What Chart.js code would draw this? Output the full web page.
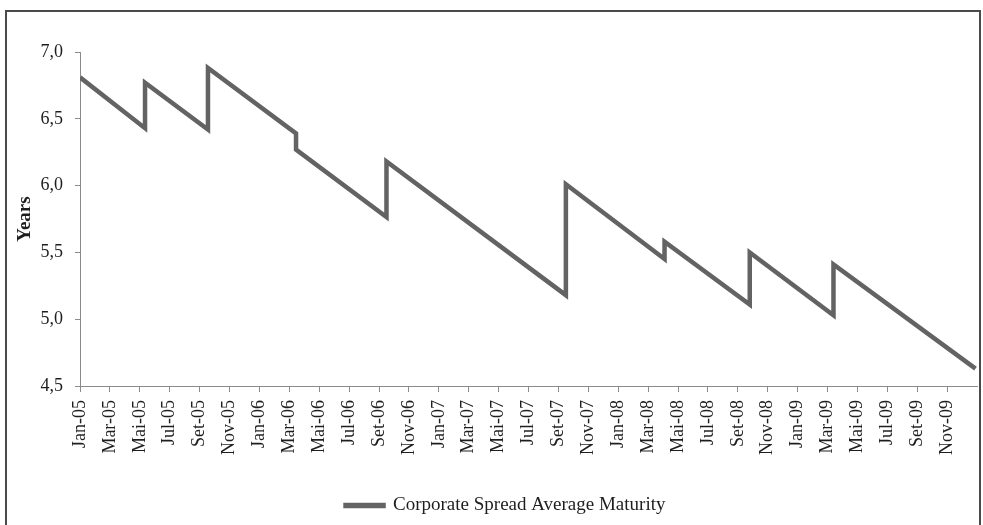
<!DOCTYPE html>
<html>
<head>
<meta charset="utf-8">
<script src="https://cdn.jsdelivr.net/npm/chart.js@4/dist/chart.umd.min.js"></script>
<style>
  html, body { margin: 0; padding: 0; background: #fff; overflow: hidden; }
  #wrap { position: relative; width: 983px; height: 525px; }
  #frame { position: absolute; left: 5px; top: 10px; width: 976px; height: 540px;
           border: 2px solid #4a4a4a; box-sizing: border-box; pointer-events: none; }
  canvas { position: absolute; left: 0; top: 0; }
</style>
</head>
<body>
<div id="wrap">
  <canvas id="c" width="983" height="525"></canvas>
  <div id="frame"></div>
</div>
<script>
// Months since Jan-2005 (0 = 1 Jan 2005) and average maturity in years
const maturityMonths = [0, 4.35, 4.35, 8.56, 8.56, 14.45, 14.45, 20.5, 20.5, 32.5, 32.5, 39.1, 39.1, 44.8, 44.8, 50.4, 50.4, 59.9];
const maturityYears  = [6.81, 6.43, 6.77, 6.42, 6.88, 6.39, 6.27, 5.765, 6.18, 5.18, 6.01, 5.45, 5.58, 5.11, 5.50, 5.03, 5.41, 4.63];
const xTickLabels = ['Jan-05','Mar-05','Mai-05','Jul-05','Set-05','Nov-05',
                     'Jan-06','Mar-06','Mai-06','Jul-06','Set-06','Nov-06',
                     'Jan-07','Mar-07','Mai-07','Jul-07','Set-07','Nov-07',
                     'Jan-08','Mar-08','Mai-08','Jul-08','Set-08','Nov-08',
                     'Jan-09','Mar-09','Mai-09','Jul-09','Set-09','Nov-09'];
const yTickLabels = ['4,5','5,0','5,5','6,0','6,5','7,0'];
const seriesName = 'Corporate Spread Average Maturity';

const points = maturityMonths.map((m, i) => ({ x: m, y: maturityYears[i] }));
const FONT = "'Liberation Serif', 'Times New Roman', serif";
const TXT = '#1e1e1e';

const shiftLegend = {
  id: 'shiftLegend',
  afterLayout(chart) {
    if (chart.legend) { chart.legend.left += 13; chart.legend.right += 13; }
  }
};

new Chart(document.getElementById('c'), {
  type: 'line',
  data: {
    datasets: [{
      label: seriesName,
      data: points,
      borderColor: '#636363',
      backgroundColor: '#636363',
      borderWidth: 4.5,
      pointRadius: 0,
      tension: 0,
      borderJoinStyle: 'miter'
    }]
  },
  plugins: [shiftLegend],
  options: {
    responsive: false,
    animation: false,
    devicePixelRatio: 1,
    layout: { padding: { left: 8, right: 6, top: 52, bottom: 0 } },
    plugins: {
      tooltip: { enabled: false },
      legend: {
        position: 'bottom',
        labels: {
          font: { family: FONT, size: 19 },
          color: TXT,
          boxWidth: 38,
          boxHeight: 1,
          padding: 6
        }
      }
    },
    scales: {
      x: {
        type: 'linear',
        min: 0,
        max: 60,
        afterFit: s => { s.height = 104; },
        grid: { drawOnChartArea: false, drawTicks: true, tickLength: 6, color: '#8a8a8a' },
        border: { color: '#8a8a8a', width: 1 },
        ticks: {
          stepSize: 2,
          autoSkip: false,
          maxRotation: 90,
          minRotation: 90,
          padding: 8,
          color: TXT,
          font: { family: FONT, size: 18 },
          callback: (v, i) => (xTickLabels[i] !== undefined ? xTickLabels[i] : null)
        }
      },
      y: {
        min: 4.5,
        max: 7.0,
        afterFit: s => { s.width = 72; },
        grid: { drawOnChartArea: false, drawTicks: true, tickLength: 5, color: '#8a8a8a' },
        border: { color: '#8a8a8a', width: 1 },
        title: {
          display: true,
          text: 'Years',
          color: TXT,
          font: { family: FONT, size: 19, weight: 'bold' },
          padding: { top: 6, bottom: 0 }
        },
        ticks: {
          stepSize: 0.5,
          padding: 12,
          color: TXT,
          font: { family: FONT, size: 18 },
          callback: (v, i) => yTickLabels[i]
        }
      }
    }
  }
});
</script>
</body>
</html>
